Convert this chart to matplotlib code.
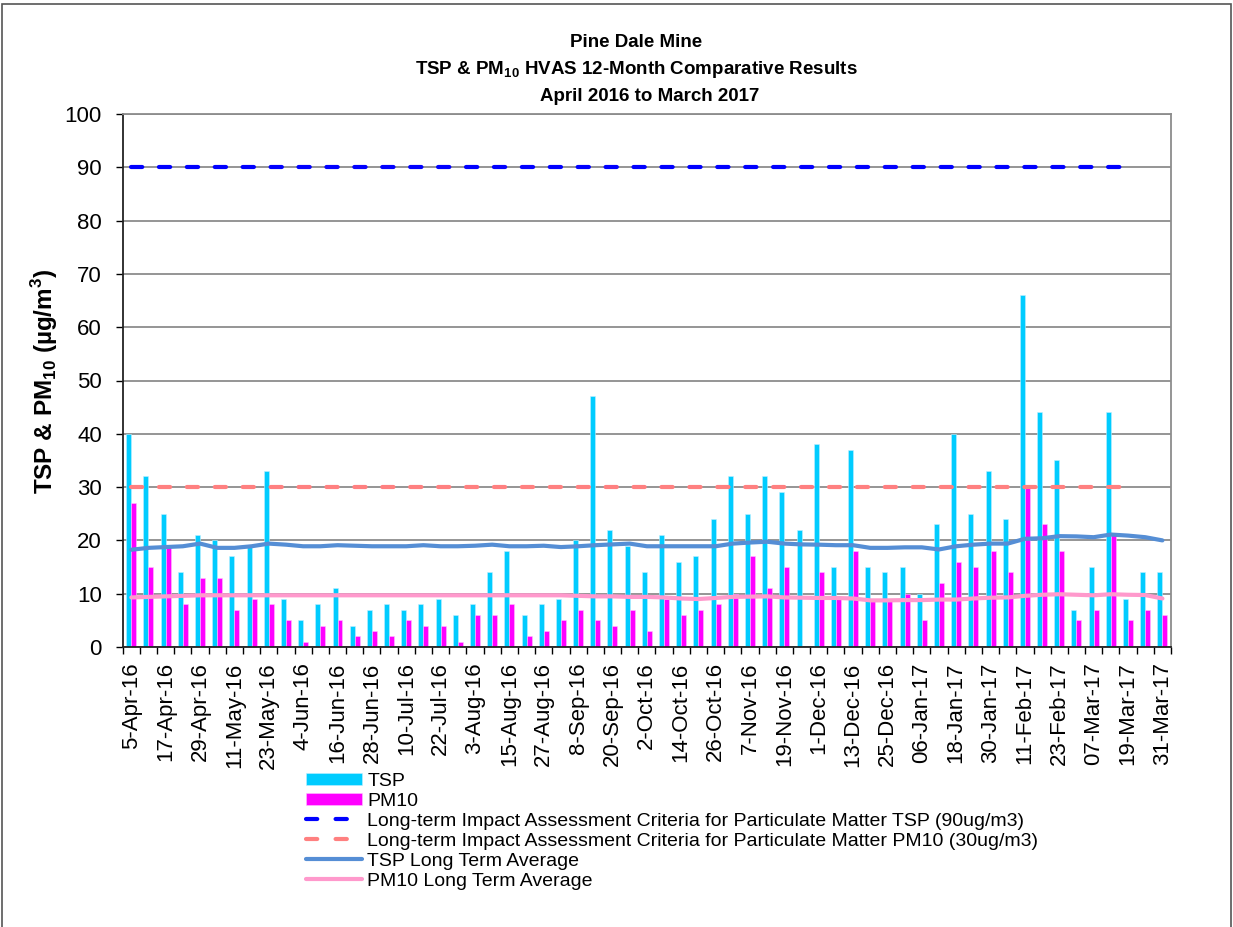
import numpy as np
import matplotlib
matplotlib.use("Agg")
import matplotlib.pyplot as plt
from matplotlib.patches import Rectangle
from matplotlib.lines import Line2D

plt.rcParams['font.family'] = ['Liberation Sans', 'DejaVu Sans']
plt.rcParams['mathtext.fontset'] = 'custom'
plt.rcParams['mathtext.rm'] = 'Liberation Sans'
plt.rcParams['mathtext.bf'] = 'Liberation Sans:bold'

# sample every 6 days, 5-Apr-16 .. 31-Mar-17 (61 samples)
tsp = [40, 32, 25, 14, 21, 20, 17, 19, 33, 9, 5, 8, 11, 4, 7, 8, 7, 8, 9, 6,
       8, 14, 18, 6, 8, 9, 20, 47, 22, 19, 14, 21, 16, 17, 24, 32, 25, 32, 29, 22,
       38, 15, 37, 15, 14, 15, 10, 23, 40, 25, 33, 24, 66, 44, 35, 7, 15, 44, 9, 14,
       14]
pm10 = [27, 15, 19, 8, 13, 13, 7, 9, 8, 5, 1, 4, 5, 2, 3, 2, 5, 4, 4, 1,
        6, 6, 8, 2, 3, 5, 7, 5, 4, 7, 3, 9, 6, 7, 8, 10, 17, 11, 15, np.nan,
        14, 9, 18, 9, 9, 10, 5, 12, 16, 15, 18, 14, 30, 23, 18, 5, 7, 21, 5, 7,
        6]
tsp_avg = [18.25, 18.6, 18.75, 18.9, 19.4, 18.6, 18.6, 18.9, 19.4, 19.2,
           18.9, 18.9, 19.1, 19.0, 18.9, 18.9, 18.9, 19.1, 18.9, 18.9,
           19.0, 19.2, 18.9, 18.9, 19.0, 18.75, 18.9, 19.1, 19.25, 19.4,
           18.9, 18.9, 18.9, 18.9, 18.9, 19.4, 19.6, 19.75, 19.4, 19.25,
           19.2, 19.1, 19.1, 18.6, 18.6, 18.7, 18.7, 18.3, 18.9, 19.2,
           19.4, 19.4, 20.3, 20.4, 20.8, 20.75, 20.6, 21.1, 20.9, 20.6,
           20.0]
pm10_avg = [9.3, 9.4, 9.5, 9.6, 9.7, 9.7, 9.7, 9.7, 9.7, 9.7,
            9.7, 9.7, 9.7, 9.7, 9.7, 9.7, 9.7, 9.7, 9.7, 9.7,
            9.7, 9.7, 9.7, 9.7, 9.7, 9.7, 9.6, 9.5, 9.5, 9.4,
            9.4, 9.3, 9.1, 9.0, 9.2, 9.4, 9.45, 9.5, 9.3, 9.25,
            9.2, 9.2, 9.1, 8.75, 8.75, 8.8, 8.8, 8.9, 8.9, 9.1,
            9.25, 9.3, 9.6, 9.8, 9.9, 9.8, 9.7, 9.9, 9.8, 9.75,
            9.1]
# criteria lines only run to 19-Mar-17
tsp_criteria = [90] * 59
pm10_criteria = [30] * 59

tick_labels = ['5-Apr-16', '17-Apr-16', '29-Apr-16', '11-May-16', '23-May-16',
               '4-Jun-16', '16-Jun-16', '28-Jun-16', '10-Jul-16', '22-Jul-16',
               '3-Aug-16', '15-Aug-16', '27-Aug-16', '8-Sep-16', '20-Sep-16',
               '2-Oct-16', '14-Oct-16', '26-Oct-16', '7-Nov-16', '19-Nov-16',
               '1-Dec-16', '13-Dec-16', '25-Dec-16', '06-Jan-17', '18-Jan-17',
               '30-Jan-17', '11-Feb-17', '23-Feb-17', '07-Mar-17', '19-Mar-17',
               '31-Mar-17']

legend_labels = ['TSP', 'PM10',
                 'Long-term Impact Assessment Criteria for Particulate Matter TSP (90ug/m3)',
                 'Long-term Impact Assessment Criteria for Particulate Matter PM10 (30ug/m3)',
                 'TSP Long Term Average', 'PM10 Long Term Average']


def plot_chart():
    W, H = 1233, 927
    fig = plt.figure(figsize=(W / 100, H / 100), dpi=100)
    # plot area in pixels: left 122.7, right 1171, top 114, bottom 647
    ax = fig.add_axes([122.7 / W, 1 - 647 / H, (1171 - 122.7) / W, (647 - 114) / H])

    n = len(tsp)
    x = np.arange(n)
    w = 0.29
    b1 = ax.bar(x - w / 2, tsp, w, color='#00CCFF', edgecolor='#BFEFFF', linewidth=0.4,
                zorder=2)
    b2 = ax.bar(x + w / 2, pm10, w, color='#FF00FF', edgecolor='#FFBFFF', linewidth=0.4,
                zorder=2)

    dash = (0, (2.7, 4.0))
    ax.plot(np.arange(len(tsp_criteria)), tsp_criteria, color='#0000FF', lw=3,
            linestyle=dash, dash_capstyle='round', zorder=3)
    ax.plot(np.arange(len(pm10_criteria)), pm10_criteria, color='#FF8080', lw=3,
            linestyle=dash, dash_capstyle='round', zorder=3)
    l3, = ax.plot(x, tsp_avg, color='#558ED5', lw=3, solid_capstyle='round', zorder=4)
    l4, = ax.plot(x, pm10_avg, color='#FF99CC', lw=3, solid_capstyle='round', zorder=4)

    # legend proxies so only two dashes show in the handle
    ldash = (0, (2.7, 4.4))
    p1 = Line2D([], [], color='#0000FF', lw=3, linestyle=ldash, dash_capstyle='round')
    p2 = Line2D([], [], color='#FF8080', lw=3, linestyle=ldash, dash_capstyle='round')

    ax.set_xlim(-0.5, n - 0.5)
    ax.set_ylim(0, 100)
    ax.set_yticks(np.arange(0, 101, 10))
    ax.yaxis.grid(True, color='#8C8C8C', lw=1.3, zorder=0)
    ax.set_axisbelow(True)
    ax.tick_params(axis='y', labelsize=16, length=5, width=1, direction='out', pad=10)

    # ticks between categories, labels on every second category
    ax.set_xticks(np.arange(-0.5, n, 1))
    ax.set_xticklabels([])
    ax.set_xticks(np.arange(0, n, 2), minor=True)
    ax.set_xticklabels(tick_labels, minor=True, rotation=90, fontsize=16)
    ax.tick_params(axis='x', which='major', length=5, width=1, direction='out')
    ax.tick_params(axis='x', which='minor', length=0, pad=11)

    for s in ['left', 'bottom']:
        ax.spines[s].set_color('#222222')
        ax.spines[s].set_linewidth(1.3)
    for s in ['top', 'right']:
        ax.spines[s].set_color('#8C8C8C')
        ax.spines[s].set_linewidth(1.3)

    # title, three lines
    fig.text(636 / W, 1 - 47 / H, 'Pine Dale Mine', ha='center', va='baseline',
             fontsize=13.5, fontweight='bold')
    fig.text(636 / W, 1 - 74 / H, r'TSP & PM$_{\mathbf{10}}$ HVAS 12-Month Comparative Results',
             ha='center', va='baseline', fontsize=13.5, fontweight='bold')
    fig.text(650 / W, 1 - 101 / H, 'April 2016 to March 2017', ha='center', va='baseline',
             fontsize=13.5, fontweight='bold')

    fig.text(45 / W, 1 - 381 / H, r'TSP & PM$_{\mathbf{10}}$ (µg/m$^{\mathbf{3}}$)',
             rotation=90, ha='center', va='center', fontsize=17.5, fontweight='bold')

    fig.legend([b1, b2, p1, p2, l3, l4], legend_labels,
               loc='upper left', bbox_to_anchor=(306 / W, 1 - 773 / H), frameon=False,
               fontsize=14, handlelength=2.9, handleheight=0.55, handletextpad=0.26,
               labelspacing=0.15, borderpad=0, borderaxespad=0)

    # chart border
    fig.patches.append(Rectangle((2 / W, -0.01), 1 - 4 / W, 1.01 - 4 / H,
                                 transform=fig.transFigure, fill=False,
                                 edgecolor='#555555', lw=1.2))

    fig.savefig('out.png', dpi=100)


def main():
    plot_chart()


if __name__ == "__main__":
    main()
